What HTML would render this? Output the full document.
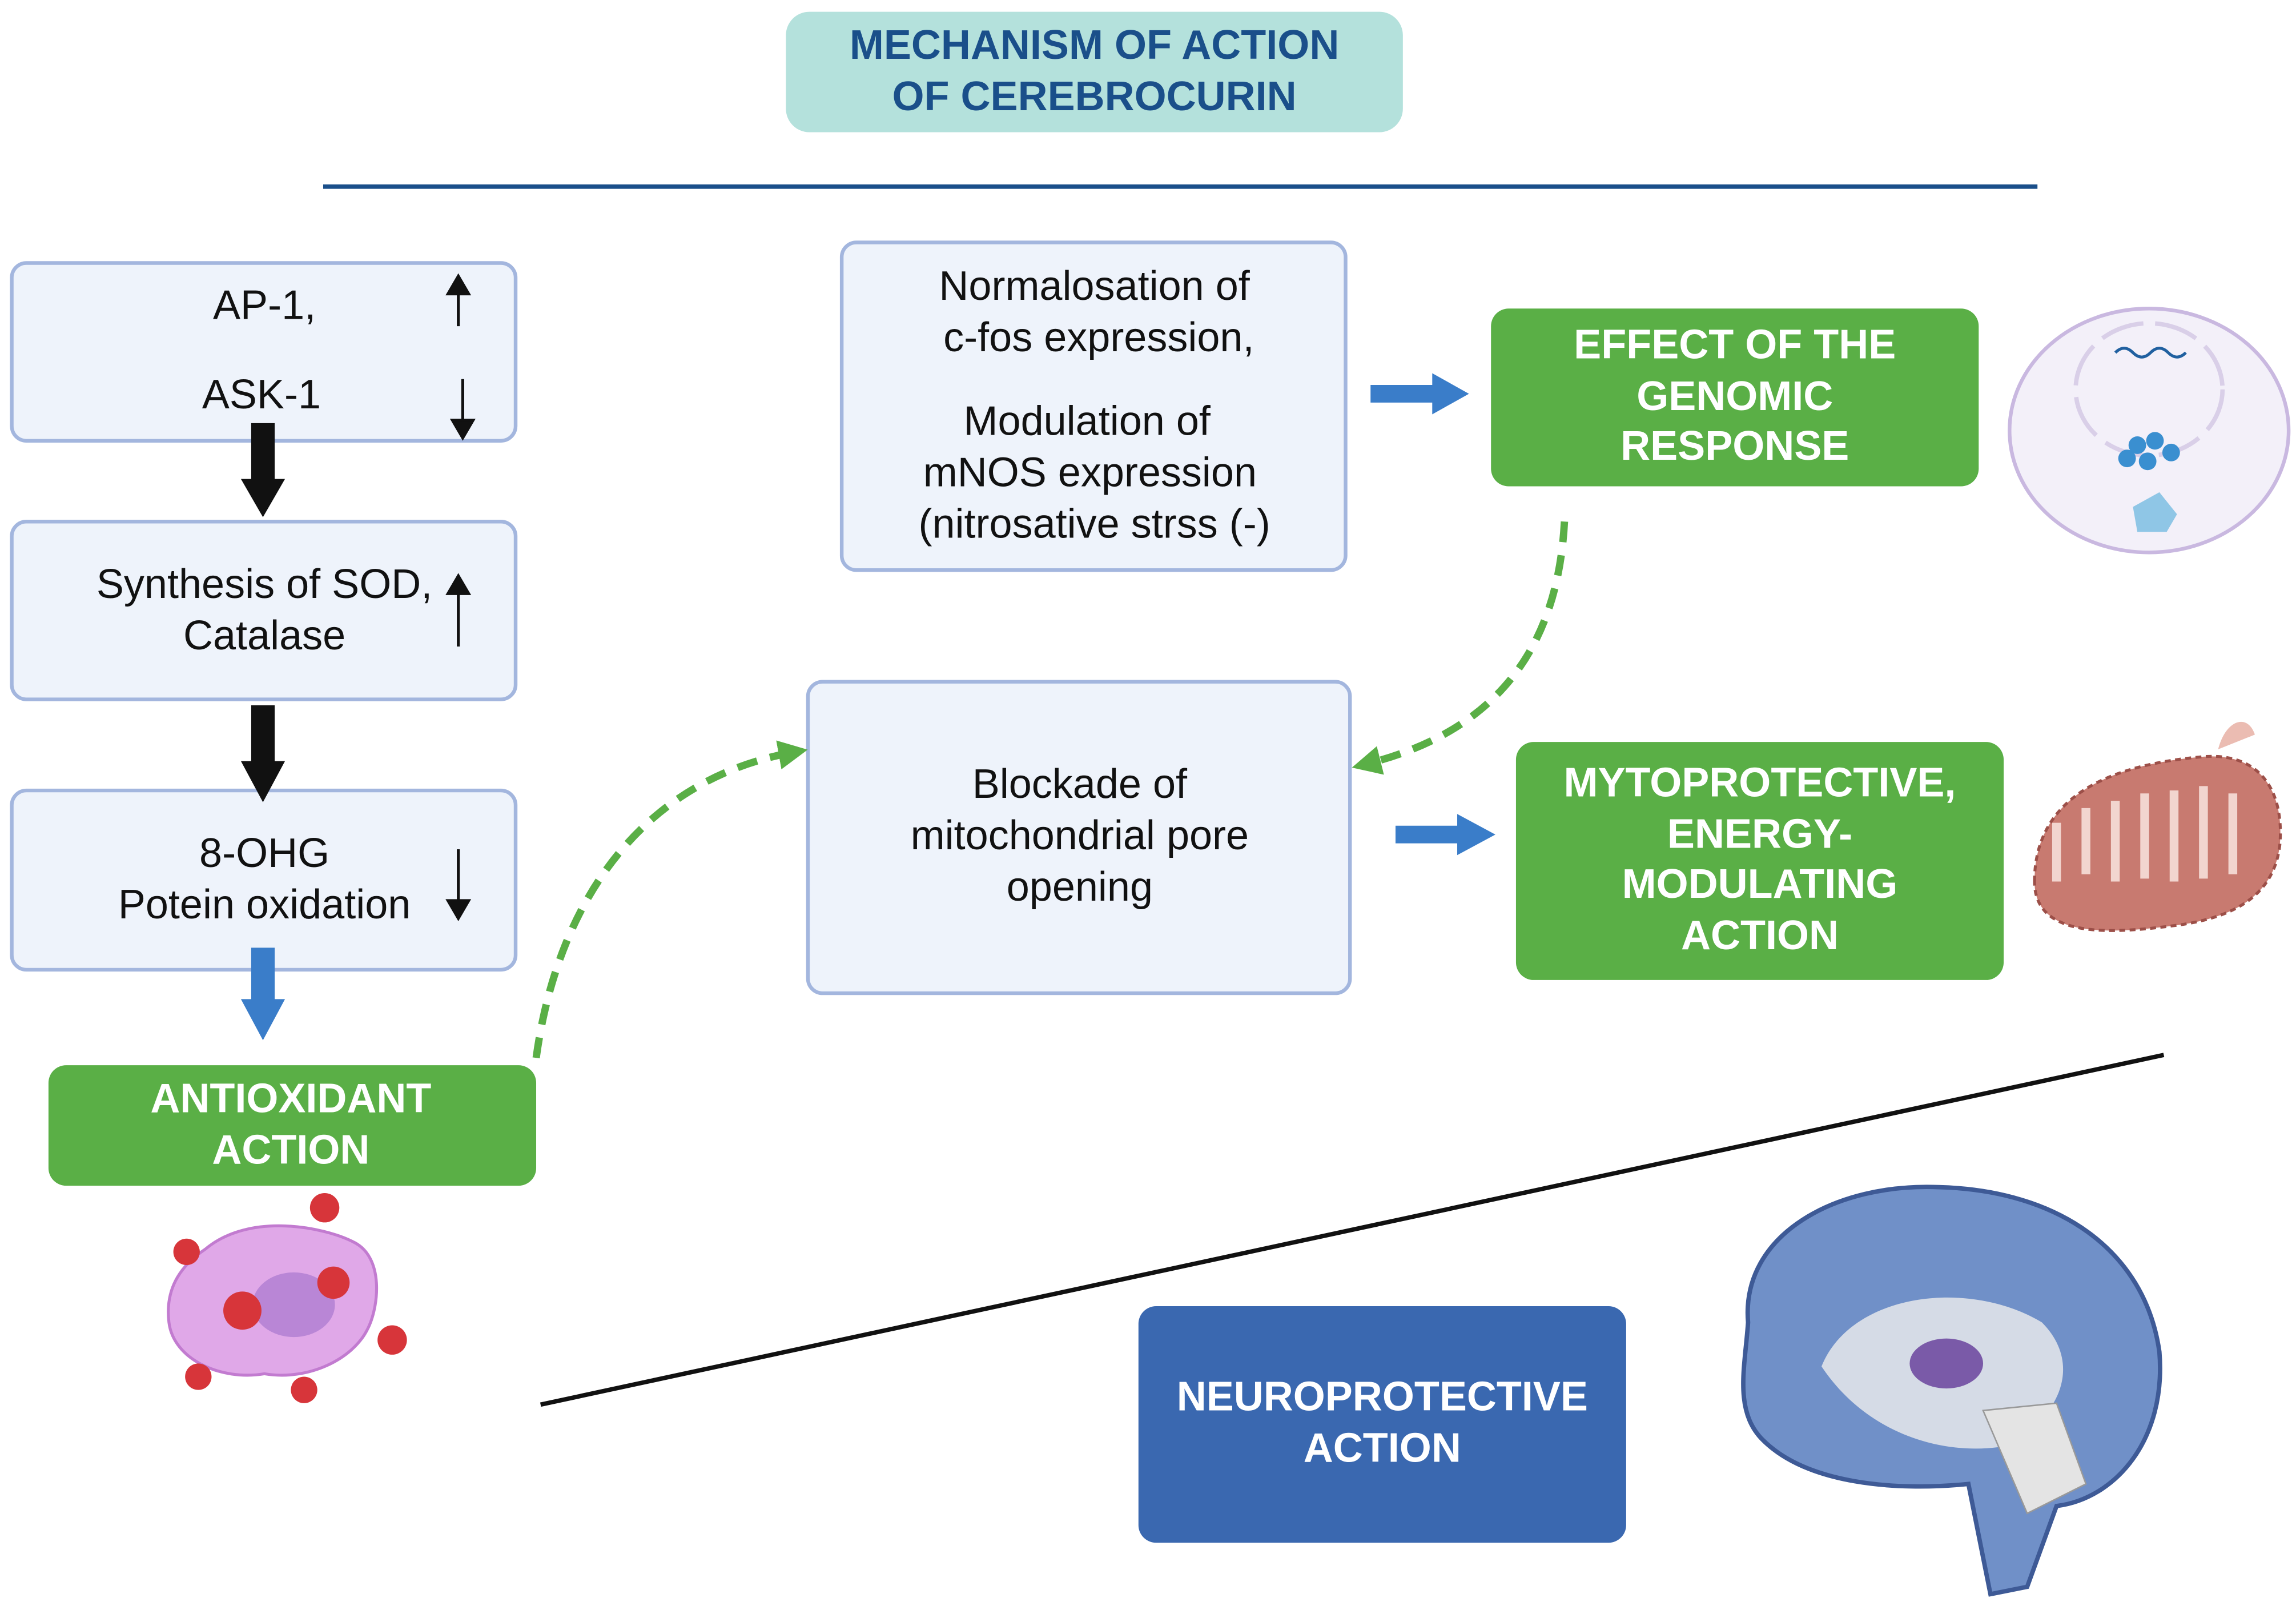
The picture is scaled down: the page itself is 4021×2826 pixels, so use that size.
<!DOCTYPE html>
<html><head><meta charset="utf-8"><style>
html,body{margin:0;padding:0;background:#fff;}
svg{display:block;}
.t{font-family:"Liberation Sans",sans-serif;font-size:28px;fill:#111;text-anchor:middle;}
.b{font-family:"Liberation Sans",sans-serif;font-size:28px;font-weight:bold;fill:#fff;text-anchor:middle;}
</style></head><body>
<svg width="4021" height="2826" viewBox="0 0 1563 1098.5" xmlns="http://www.w3.org/2000/svg">
<defs>
<marker id="ga" markerWidth="4" markerHeight="4" refX="2" refY="2" orient="auto" markerUnits="strokeWidth"><path d="M0,0 L4,2 L0,4 z" fill="#5aaf46"/></marker>
</defs>
<rect width="1563" height="1099" fill="#fff"/>
<rect x="535" y="8" width="420" height="82" rx="16" fill="#b4e1dc"/>
<text class="b" x="745" y="40" style="fill:#1a4f8a">MECHANISM OF ACTION</text>
<text class="b" x="745" y="75" style="fill:#1a4f8a">OF CEREBROCURIN</text>
<line x1="220" y1="127" x2="1387" y2="127" stroke="#1a4f8a" stroke-width="3"/>

<g fill="#eef3fb" stroke="#a3b6de" stroke-width="2.5">
<rect x="8" y="179" width="343" height="121" rx="10"/>
<rect x="8" y="355" width="343" height="121" rx="10"/>
<rect x="8" y="538" width="343" height="122" rx="10"/>
<rect x="573" y="165" width="343" height="223" rx="10"/>
<rect x="550" y="464" width="369" height="212" rx="10"/>
</g>
<text class="t" x="180" y="217">AP-1,</text>
<text class="t" x="178" y="278">ASK-1</text>
<text class="t" x="180" y="407">Synthesis of SOD,</text>
<text class="t" x="180" y="442">Catalase</text>
<text class="t" x="180" y="590">8-OHG</text>
<text class="t" x="180" y="625">Potein oxidation</text>
<g stroke="#111" stroke-width="2" fill="#111">
<line x1="312" y1="222" x2="312" y2="198"/><path d="M305,200 L312,188 L319,200 z"/>
<line x1="315" y1="258" x2="315" y2="288"/><path d="M308,286 L315,298 L322,286 z"/>
<line x1="312" y1="440" x2="312" y2="402"/><path d="M305,404 L312,392 L319,404 z"/>
<line x1="312" y1="578" x2="312" y2="615"/><path d="M305,613 L312,625 L319,613 z"/>
</g>
<path d="M171,288 H187 V326 H194 L179,352 L164,326 H171 z" fill="#111"/>
<path d="M171,480 H187 V518 H194 L179,546 L164,518 H171 z" fill="#111"/>
<path d="M171,645 H187 V680 H194 L179,708 L164,680 H171 z" fill="#3a7dc9"/>

<rect x="33" y="725" width="332" height="82" rx="12" fill="#5aaf46"/>
<text class="b" x="198" y="757">ANTIOXIDANT</text>
<text class="b" x="198" y="792">ACTION</text>
<path d="M140,850 C170,825 220,835 240,845 C262,855 258,890 250,905 C240,925 210,940 180,935 C150,940 118,925 115,900 C112,875 125,860 140,850 z" fill="#e0a8e8" stroke="#c27bd0" stroke-width="2"/>
<ellipse cx="200" cy="888" rx="28" ry="22" fill="#b986d6"/>
<g fill="#d7353a">
<circle cx="165" cy="892" r="13"/><circle cx="227" cy="873" r="11"/><circle cx="221" cy="822" r="10"/>
<circle cx="127" cy="852" r="9"/><circle cx="267" cy="912" r="10"/><circle cx="135" cy="937" r="9"/><circle cx="207" cy="946" r="9"/>
</g>

<text class="t" x="745" y="204">Normalosation of</text>
<text class="t" x="748" y="239">c-fos expression,</text>
<text class="t" x="740" y="296">Modulation of</text>
<text class="t" x="742" y="331">mNOS expression</text>
<text class="t" x="745" y="366">(nitrosative strss (-)</text>
<path d="M933,262 H975 V254 L1000,268 L975,282 V274 H933 z" fill="#3a7dc9"/>
<rect x="1015" y="210" width="332" height="121" rx="12" fill="#5aaf46"/>
<text class="b" x="1181" y="244">EFFECT OF THE</text>
<text class="b" x="1181" y="279">GENOMIC</text>
<text class="b" x="1181" y="313">RESPONSE</text>
<ellipse cx="1463" cy="293" rx="95" ry="83" fill="#f3f0f9" stroke="#c9b8e0" stroke-width="2.5"/>
<ellipse cx="1463" cy="265" rx="50" ry="45" fill="none" stroke="#d9cfe8" stroke-width="3" stroke-dasharray="30 8"/>
<path d="M1440,240 q6,-6 12,0 t12,0 t12,0 t12,0" stroke="#2060a0" stroke-width="2" fill="none"/>
<g fill="#3a8fd0"><circle cx="1455" cy="303" r="6"/><circle cx="1467" cy="300" r="6"/><circle cx="1478" cy="308" r="6"/><circle cx="1448" cy="312" r="6"/><circle cx="1462" cy="314" r="6"/></g>
<path d="M1452,345 L1470,335 L1482,350 L1475,362 L1455,362 z" fill="#8fc6e6"/>

<text class="t" x="735" y="543">Blockade of</text>
<text class="t" x="735" y="578">mitochondrial pore</text>
<text class="t" x="735" y="613">opening</text>
<path d="M1065,355 C1060,450 1010,500 930,520" fill="none" stroke="#5aaf46" stroke-width="5" stroke-dasharray="14 9" marker-end="url(#ga)"/>
<path d="M365,720 C380,610 440,530 540,512" fill="none" stroke="#5aaf46" stroke-width="5" stroke-dasharray="14 9" marker-end="url(#ga)"/>
<path d="M950,562 H992 V554 L1018,568 L992,582 V574 H950 z" fill="#3a7dc9"/>
<rect x="1032" y="505" width="332" height="162" rx="12" fill="#5aaf46"/>
<text class="b" x="1198" y="542">MYTOPROTECTIVE,</text>
<text class="b" x="1198" y="577">ENERGY-</text>
<text class="b" x="1198" y="611">MODULATING</text>
<text class="b" x="1198" y="646">ACTION</text>
<path d="M1385,600 C1385,540 1440,520 1500,515 C1540,512 1555,540 1552,575 C1548,610 1520,625 1480,630 C1440,635 1385,640 1385,600 z" fill="#c87a70" stroke="#9c4f48" stroke-width="2" stroke-dasharray="4 3"/>
<path d="M1400,600 V560 M1420,595 V550 M1440,600 V545 M1460,598 V540 M1480,600 V538 M1500,598 V535 M1520,595 V540" stroke="#f2d5cf" stroke-width="6"/>
<path d="M1510,510 C1515,490 1530,485 1535,500" fill="#ebbcb2"/>

<line x1="368" y1="956" x2="1473" y2="718" stroke="#111" stroke-width="3"/>
<rect x="775" y="889" width="332" height="161" rx="12" fill="#3a68b0"/>
<text class="b" x="941" y="960">NEUROPROTECTIVE</text>
<text class="b" x="941" y="995">ACTION</text>
<path d="M1190,900 C1185,840 1250,805 1320,808 C1400,810 1460,850 1470,920 C1475,980 1440,1020 1400,1025 L1380,1080 L1355,1085 L1340,1010 C1290,1015 1230,1010 1200,980 C1180,960 1188,930 1190,900 z" fill="#7090c8" stroke="#3e5a96" stroke-width="3"/>
<path d="M1240,930 C1260,880 1340,870 1390,900 C1420,930 1400,970 1360,985 C1320,990 1270,975 1240,930 z" fill="#d5dbe6"/>
<ellipse cx="1325" cy="928" rx="25" ry="17" fill="#7a5aa8"/>
<path d="M1350,960 L1400,955 L1420,1010 L1380,1030 z" fill="#e4e4e4" stroke="#999"/>
</svg>
</body></html>
